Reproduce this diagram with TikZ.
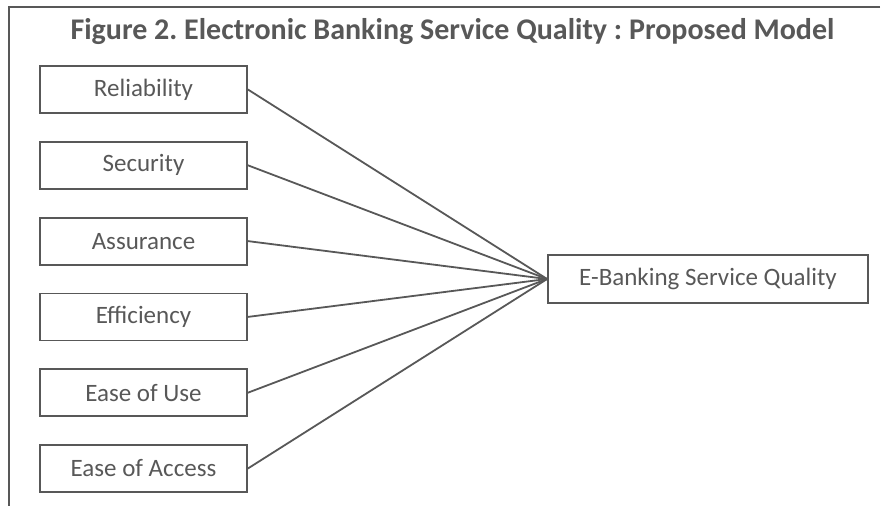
\documentclass[tikz,border=0pt]{standalone}
\usepackage{fontspec}
\setmainfont{Carlito}
\usepackage{xcolor}
\usetikzlibrary{positioning}

\definecolor{inkgray}{HTML}{585858}

\tikzset{
  factor/.style={draw=inkgray, line width=1.8pt, minimum width=207pt, minimum height=47pt, inner sep=0pt, font=\fontsize{25}{28}\selectfont, text=inkgray},
  link/.style={inkgray, line width=1.8pt}
}

\begin{document}
\frenchspacing
\begin{tikzpicture}[x=1pt, y=-1pt]
\useasboundingbox (0,0) rectangle (885,506);

% Frame
\draw[inkgray, line width=1.6pt] (880,7) -- (9,7) -- (9,506);

% Title
\node[font=\fontsize{30}{33}\selectfont\bfseries, text=inkgray, anchor=base, inner sep=0pt] (title) at (452.5,39) {Figure 2. Electronic Banking Service Quality : Proposed Model};

% Dimensions
\node[factor] (rel) at (143.5,89.5) {Reliability};
\node[factor, below=27pt of rel] (sec) {Security};
\node[factor, below=27pt of sec] (asr) {Assurance};
\node[factor, below=27pt of asr] (eff) {Efficiency};
\node[factor, below=27pt of eff] (use) {Ease of Use};
\node[factor, below=27pt of use] (acc) {Ease of Access};

% Outcome
\node[factor, minimum width=320pt, minimum height=48pt] (esq) at (708,279) {E-Banking Service Quality};

% Links
\draw[link] (rel.east) -- (esq.west);
\draw[link] (sec.east) -- (esq.west);
\draw[link] (asr.east) -- (esq.west);
\draw[link] (eff.east) -- (esq.west);
\draw[link] (use.east) -- (esq.west);
\draw[link] (acc.east) -- (esq.west);

\end{tikzpicture}
\end{document}
